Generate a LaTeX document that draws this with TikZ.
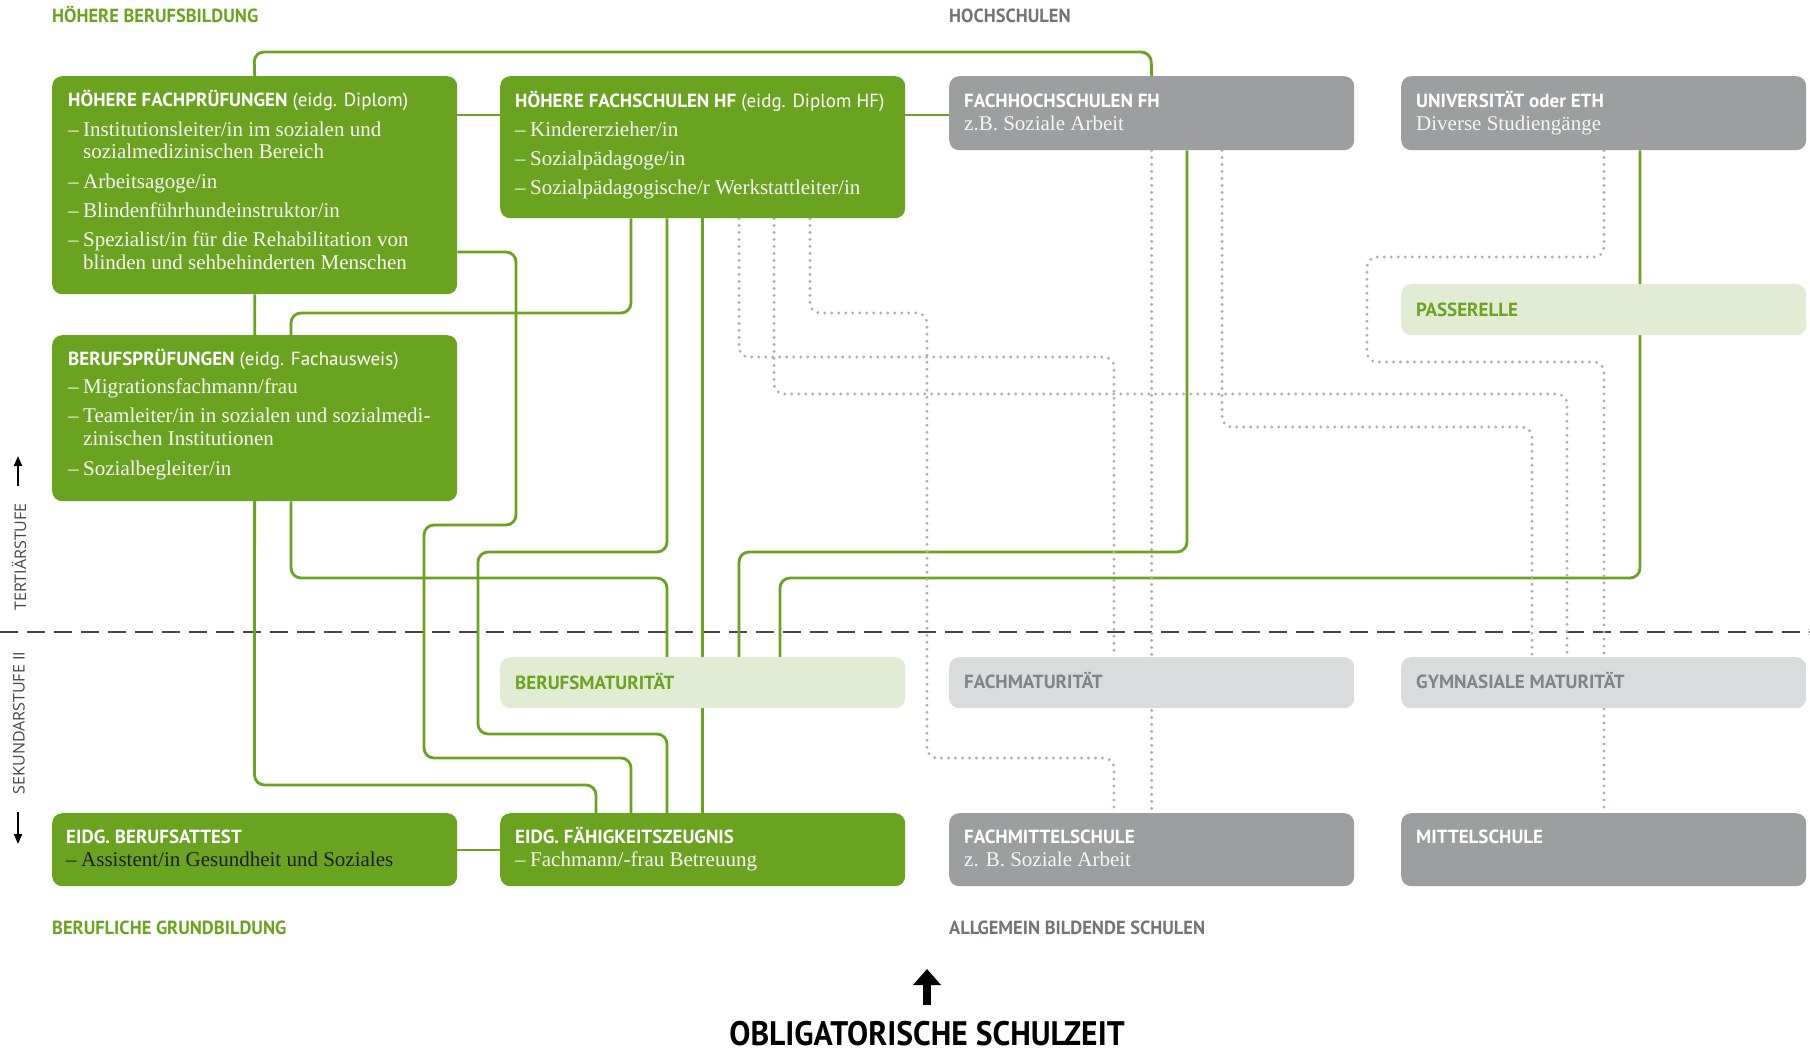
\documentclass[tikz,border=0pt]{standalone}
\usepackage{fontspec}
\setmainfont{Liberation Serif}
\newfontfamily\hdfont{PT Sans}
\newfontfamily\labfont{PT Sans}[FakeStretch=0.97]
\newfontfamily\bigfont{PT Sans}[FakeStretch=0.93]
\newfontfamily\sidefont{Open Sans}
\usetikzlibrary{arrows.meta}
\definecolor{grn}{RGB}{106,163,31}
\definecolor{lgrn}{RGB}{226,236,213}
\definecolor{gbox}{RGB}{157,158,160}
\definecolor{lgbox}{RGB}{218,219,221}
\definecolor{gtext}{RGB}{130,131,133}
\definecolor{labgray}{RGB}{115,116,118}
\definecolor{dotgray}{RGB}{175,177,180}
\definecolor{dashgray}{RGB}{70,70,70}
\definecolor{offwhite}{RGB}{246,246,242}
\definecolor{darktxt}{RGB}{30,30,30}
\definecolor{sidegray}{RGB}{70,70,70}
\newcommand\itemdash{\makebox[15pt][l]{–}}
\pgfdeclarelayer{lines}
\pgfsetlayers{lines,main}
\begin{document}
\begin{tikzpicture}[x=1pt,y=-1pt,
  box/.style={rectangle, rounded corners=10pt, draw=none, minimum width=405pt, anchor=north west, inner sep=0pt},
  hd/.style={anchor=base west, inner sep=0pt, font=\hdfont\fontsize{19}{22}\selectfont\bfseries, text=white},
  itm/.style={anchor=base west, inner sep=0pt, font=\fontsize{21}{23}\selectfont, text=offwhite},
  lab/.style={anchor=base west, inner sep=0pt, font=\labfont\fontsize{19}{22}\selectfont\bfseries},
  gline/.style={draw=grn, line width=2.8pt, rounded corners=10pt},
  dline/.style={draw=dotgray, line width=3.3pt, line cap=round, dash pattern=on 0pt off 7pt, rounded corners=10pt},
  sidearrow/.style={line width=2pt, -{Triangle[width=8pt,length=10pt]}, draw=black}
]
\useasboundingbox (0,0) rectangle (1810,1055);

% ---------- boxes ----------
\node[box, fill=grn, minimum height=218pt] (hfp) at (52,76) {};
\node[box, fill=grn, minimum height=142pt] (hf) at (500,76) {};
\node[box, fill=gbox, minimum height=74pt] (fh) at (949,76) {};
\node[box, fill=gbox, minimum height=74pt] (uni) at (1401,76) {};
\node[box, fill=lgrn, minimum height=51pt] (pass) at (1401,284) {};
\node[box, fill=grn, minimum height=166pt] (bp) at (52,335) {};
\node[box, fill=lgrn, minimum height=51pt] (bm) at (500,657) {};
\node[box, fill=lgbox, minimum height=51pt] (fm) at (949,657) {};
\node[box, fill=lgbox, minimum height=51pt] (gym) at (1401,657) {};
\node[box, fill=grn, minimum height=73pt] (eba) at (52,813) {};
\node[box, fill=grn, minimum height=73pt] (efz) at (500,813) {};
\node[box, fill=gbox, minimum height=73pt] (fms) at (949,813) {};
\node[box, fill=gbox, minimum height=73pt] (ms) at (1401,813) {};

% ---------- texts ----------
\node[hd] (hfp-h) at (68,106) {HÖHERE FACHPRÜFUNGEN\mdseries\ (eidg. Diplom)};
\node[itm] (hfp-1) at (68,136) {\itemdash Institutionsleiter/in im sozialen und};
\node[itm] (hfp-1b) at (83,158) {sozialmedizinischen Bereich};
\node[itm] (hfp-2) at (68,188) {\itemdash Arbeitsagoge/in};
\node[itm] (hfp-3) at (68,217) {\itemdash Blindenführhundeinstruktor/in};
\node[itm] (hfp-4) at (68,246) {\itemdash Spezialist/in für die Rehabilitation von};
\node[itm] (hfp-4b) at (83,269) {blinden und sehbehinderten Menschen};

\node[hd] (hf-h) at (515,107) {HÖHERE FACHSCHULEN HF\mdseries\ (eidg. Diplom HF)};
\node[itm] (hf-1) at (515,136) {\itemdash Kindererzieher/in};
\node[itm] (hf-2) at (515,165) {\itemdash Sozialpädagoge/in};
\node[itm] (hf-3) at (515,194) {\itemdash Sozialpädagogische/r Werkstattleiter/in};

\node[hd] (fh-h) at (964,107) {FACHHOCHSCHULEN FH};
\node[itm] (fh-1) at (964,130) {z.B. Soziale Arbeit};
\node[hd] (uni-h) at (1416,107) {UNIVERSITÄT oder ETH};
\node[itm] (uni-1) at (1416,130) {Diverse Studiengänge};
\node[hd, text=grn] (pass-h) at (1416,316) {PASSERELLE};

\node[hd] (bp-h) at (68,365) {BERUFSPRÜFUNGEN\mdseries\ (eidg. Fachausweis)};
\node[itm] (bp-1) at (68,393) {\itemdash Migrationsfachmann/frau};
\node[itm] (bp-2) at (68,422) {\itemdash Teamleiter/in in sozialen und sozialmedi-};
\node[itm] (bp-2b) at (83,445) {zinischen Institutionen};
\node[itm] (bp-3) at (68,475) {\itemdash Sozialbegleiter/in};

\node[hd, text=grn] (bm-h) at (515,689) {BERUFSMATURITÄT};
\node[hd, text=gtext] (fm-h) at (964,688) {FACHMATURITÄT};
\node[hd, text=gtext] (gym-h) at (1416,688) {GYMNASIALE MATURITÄT};

\node[hd] (eba-h) at (66,843) {EIDG. BERUFSATTEST};
\node[itm, text=darktxt] (eba-1) at (66,866) {\itemdash Assistent/in Gesundheit und Soziales};
\node[hd] (efz-h) at (515,843) {EIDG. FÄHIGKEITSZEUGNIS};
\node[itm] (efz-1) at (515,866) {\itemdash Fachmann/-frau Betreuung};
\node[hd] (fms-h) at (964,843) {FACHMITTELSCHULE};
\node[itm] (fms-1) at (964,866) {z. B. Soziale Arbeit};
\node[hd] (ms-h) at (1416,843) {MITTELSCHULE};

% ---------- labels ----------
\node[lab, text=grn] (l-hbb) at (52,22) {HÖHERE BERUFSBILDUNG};
\node[lab, text=labgray] (l-hs) at (949,22) {HOCHSCHULEN};
\node[lab, text=grn] (l-bg) at (52,934) {BERUFLICHE GRUNDBILDUNG};
\node[lab, text=labgray] (l-abs) at (949,934) {ALLGEMEIN BILDENDE SCHULEN};
\node[anchor=base, inner sep=0pt, text depth=0pt, font=\bigfont\fontsize{34}{36}\selectfont\bfseries, text=black] (obl) at (927,1045) {OBLIGATORISCHE SCHULZEIT};
\node[rotate=90, inner sep=0pt, font=\sidefont\fontsize{16}{16}\selectfont, text=sidegray] (tert) at (19,557) {TERTIÄRSTUFE};
\node[rotate=90, inner sep=0pt, font=\sidefont\fontsize{16}{16}\selectfont, text=sidegray] (sek) at (19,723) {SEKUNDARSTUFE II};

% ---------- arrows ----------
\coordinate (upA) at (18,486);
\coordinate (upB) at (18,456);
\coordinate (dnA) at (18,812);
\coordinate (dnB) at (18,844);
\draw[sidearrow] (upA) -- (upB);
\draw[sidearrow] (dnA) -- (dnB);
\coordinate (bigA) at (927,1005);
\coordinate (bigB) at (927,969);
\draw[line width=8pt, -{Triangle[width=27pt,length=16pt]}] (bigA) -- (bigB);

% ---------- connectors ----------
\begin{pgfonlayer}{lines}
\fill[white] (0,0) rectangle (1810,1055);
\draw[draw=dashgray, line width=2pt, dash pattern=on 18pt off 9pt] (0,632) -- (1810,632);
% green
\draw[gline] (hfp.north) -- (254,52) -- (1151,52) -- (fh.north);
\draw[gline] (hfp.east |- 0,115) -- (hf.west |- 0,115);
\draw[gline] (hf.east |- 0,115) -- (fh.west |- 0,115);
\draw[gline] (hfp.east |- 0,252) -- (516,252) -- (516,525) -- (424,525) -- (424,758) -- (631,758) -- (efz.north -| 631,0);
\draw[gline] (hfp.south) -- (254.5,785) -- (596,785) -- (efz.north -| 596,0);
\draw[gline] (bp.south -| 291,0) -- (291,578) -- (667,578) -- (bm.north -| 667,0);
\draw[gline] (hf.south -| 667,0) -- (667,552) -- (478,552) -- (478,734) -- (667,734) -- (efz.north -| 667,0);
\draw[gline] (hf.south -| 631,0) -- (631,313) -- (291,313) -- (bp.north -| 291,0);
\draw[gline] (hf.south) -- (efz.north);
\draw[gline] (fh.south -| 1187,0) -- (1187,552) -- (739,552) -- (bm.north -| 739,0);
\draw[gline] (uni.south -| 1640,0) -- (1640,578) -- (780,578) -- (bm.north -| 780,0);
\draw[gline] (eba.east |- 0,850) -- (efz.west |- 0,850);
% dotted
\draw[dline] (hf.south -| 739,0) -- (739,357) -- (1114,357) -- (fm.north -| 1114,0);
\draw[dline] (hf.south -| 774,0) -- (774,394) -- (1567,394) -- (gym.north -| 1567,0);
\draw[dline] (hf.south -| 810,0) -- (810,313) -- (927,313) -- (927,758) -- (1114,758) -- (fms.north -| 1114,0);
\draw[dline] (fh.south) -- (fms.north);
\draw[dline] (fh.south -| 1222,0) -- (1222,427) -- (1532,427) -- (gym.north -| 1532,0);
\draw[dline] (uni.south -| 1604,0) -- (1604,257) -- (1367,257) -- (1367,362) -- (1604,362) -- (ms.north -| 1604,0);
\end{pgfonlayer}
\end{tikzpicture}
\end{document}
